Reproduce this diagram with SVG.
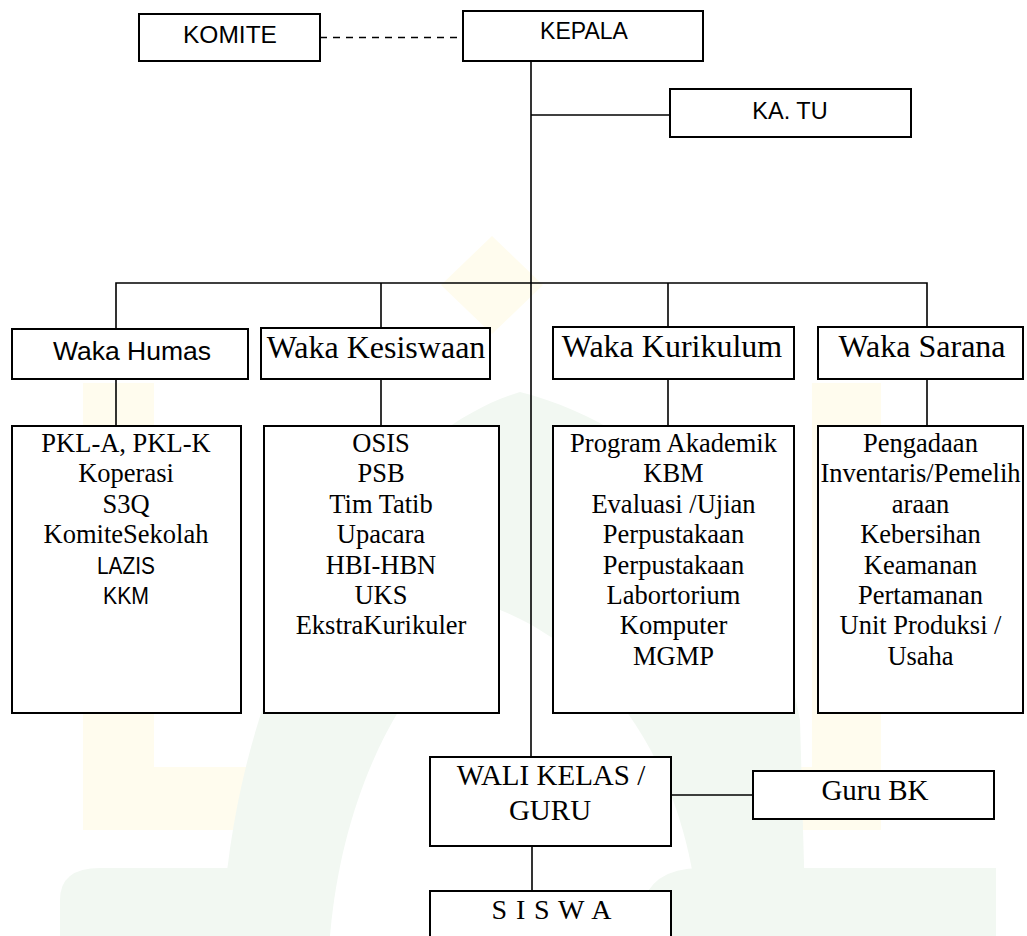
<svg xmlns="http://www.w3.org/2000/svg" width="1027" height="936" viewBox="0 0 1027 936">
<style>
.box{fill:#fff;stroke:#000;stroke-width:2}
.ln{fill:none;stroke:#000;stroke-width:1.6}
.dash{fill:none;stroke:#000;stroke-width:1.6;stroke-dasharray:7 6}
.sans{font-family:"Liberation Sans",Arial,sans-serif;fill:#000;text-anchor:middle}
.serif{font-family:"Liberation Serif","Times New Roman",serif;fill:#000;text-anchor:middle}
.hd{font-size:32px}
.ls{font-size:26.5px}
.wy{fill:#fffcee}
.wg{fill:#f2f8f2}
</style>
<rect x="0" y="0" width="1027" height="936" fill="#fff"/>
<g id="watermark">
<rect class="wy" x="83" y="383" width="71" height="447"/>
<rect class="wy" x="812" y="383" width="69" height="447"/>
<rect class="wy" x="83" y="767" width="798" height="63"/>
<polygon class="wy" points="492,236 543,285 492,334 441,285"/>
<path class="wg" d="M222 936 C232 680 360 440 520 392 C670 430 770 560 800 720 L806 936 Z"/>
<path fill="#fff" d="M330 936 C345 760 430 640 500 610 C600 650 690 760 700 936 Z"/>
<path class="wg" d="M60 936 L60 900 Q60 868 100 868 L300 868 Q330 868 330 900 L330 936 Z"/>
<path class="wg" d="M640 936 L640 910 Q650 868 700 868 L996 868 L996 936 Z"/>
</g>
<g id="connectors">
<line class="dash" x1="320" y1="37.5" x2="463" y2="37.5"/>
<line class="ln" x1="531" y1="61" x2="531" y2="757"/>
<line class="ln" x1="531" y1="115" x2="670" y2="115"/>
<polyline class="ln" points="116,328 116,283 927,283 927,328"/>
<line class="ln" x1="381" y1="283" x2="381" y2="328"/>
<line class="ln" x1="668" y1="283" x2="668" y2="328"/>
<line class="ln" x1="116" y1="379" x2="116" y2="426"/>
<line class="ln" x1="381" y1="379" x2="381" y2="426"/>
<line class="ln" x1="668" y1="379" x2="668" y2="426"/>
<line class="ln" x1="927" y1="379" x2="927" y2="426"/>
<line class="ln" x1="671" y1="795" x2="753" y2="795"/>
<line class="ln" x1="532" y1="846" x2="532" y2="891"/>
</g>
<g id="komite">
<rect class="box" x="139" y="14" width="181" height="47"/>
<text class="sans" x="230" y="42.5" font-size="24.5">KOMITE</text>
</g>
<g id="kepala">
<rect class="box" x="463" y="11" width="240" height="50"/>
<text class="sans" x="584" y="38.5" font-size="23">KEPALA</text>
</g>
<g id="katu">
<rect class="box" x="670" y="89" width="241" height="48"/>
<text class="sans" x="790" y="118.5" font-size="23.5">KA. TU</text>
</g>
<g id="waka-humas">
<rect class="box" x="12" y="329" width="236" height="50"/>
<text class="sans" x="132" y="360" font-size="26.5">Waka Humas</text>
</g>
<g id="waka-kesiswaan">
<rect class="box" x="261" y="328" width="229" height="51"/>
<text class="serif hd" x="376" y="358">Waka Kesiswaan</text>
</g>
<g id="waka-kurikulum">
<rect class="box" x="553" y="327" width="241" height="52"/>
<text class="serif hd" x="672" y="357">Waka Kurikulum</text>
</g>
<g id="waka-sarana">
<rect class="box" x="818" y="327" width="205" height="52"/>
<text class="serif hd" x="922" y="357">Waka Sarana</text>
</g>
<g id="list-humas">
<rect class="box" x="12" y="426" width="229" height="287"/>
<text class="serif ls" x="126" y="452">PKL-A, PKL-K</text>
<text class="serif ls" x="126" y="482.4">Koperasi</text>
<text class="serif ls" x="126" y="512.8">S3Q</text>
<text class="serif ls" x="126" y="543.2">KomiteSekolah</text>
<text class="sans" x="126" y="573.6" font-size="23" textLength="58" lengthAdjust="spacingAndGlyphs">LAZIS</text>
<text class="sans" x="126" y="604" font-size="23" textLength="46" lengthAdjust="spacingAndGlyphs">KKM</text>
</g>
<g id="list-kesiswaan">
<rect class="box" x="264" y="426" width="235" height="287"/>
<text class="serif ls" x="381" y="452">OSIS</text>
<text class="serif ls" x="381" y="482.4">PSB</text>
<text class="serif ls" x="381" y="512.8">Tim Tatib</text>
<text class="serif ls" x="381" y="543.2">Upacara</text>
<text class="serif ls" x="381" y="573.6">HBI-HBN</text>
<text class="serif ls" x="381" y="604">UKS</text>
<text class="serif ls" x="381" y="634.4">EkstraKurikuler</text>
</g>
<g id="list-kurikulum">
<rect class="box" x="553" y="426" width="241" height="287"/>
<text class="serif ls" x="673.5" y="452">Program Akademik</text>
<text class="serif ls" x="673.5" y="482.4">KBM</text>
<text class="serif ls" x="673.5" y="512.8">Evaluasi /Ujian</text>
<text class="serif ls" x="673.5" y="543.2">Perpustakaan</text>
<text class="serif ls" x="673.5" y="573.6">Perpustakaan</text>
<text class="serif ls" x="673.5" y="604">Labortorium</text>
<text class="serif ls" x="673.5" y="634.4">Komputer</text>
<text class="serif ls" x="673.5" y="664.8">MGMP</text>
</g>
<g id="list-sarana">
<rect class="box" x="818" y="426" width="205" height="287"/>
<text class="serif ls" x="920.5" y="452">Pengadaan</text>
<text class="serif ls" x="920.5" y="482.4">Inventaris/Pemelih</text>
<text class="serif ls" x="920.5" y="512.8">araan</text>
<text class="serif ls" x="920.5" y="543.2">Kebersihan</text>
<text class="serif ls" x="920.5" y="573.6">Keamanan</text>
<text class="serif ls" x="920.5" y="604">Pertamanan</text>
<text class="serif ls" x="920.5" y="634.4">Unit Produksi /</text>
<text class="serif ls" x="920.5" y="664.8">Usaha</text>
</g>
<g id="wali-kelas">
<rect class="box" x="430" y="757" width="241" height="89"/>
<text class="serif" x="551" y="785" font-size="29">WALI KELAS /</text>
<text class="serif" x="550" y="819.5" font-size="29">GURU</text>
</g>
<g id="guru-bk">
<rect class="box" x="753" y="771" width="241" height="48"/>
<text class="serif" x="875" y="800" font-size="29">Guru BK</text>
</g>
<g id="siswa">
<rect class="box" x="430" y="891" width="241" height="60"/>
<text class="serif" x="551.5" y="918.5" font-size="28" textLength="120" lengthAdjust="spacing">S I S W A</text>
</g>
</svg>
